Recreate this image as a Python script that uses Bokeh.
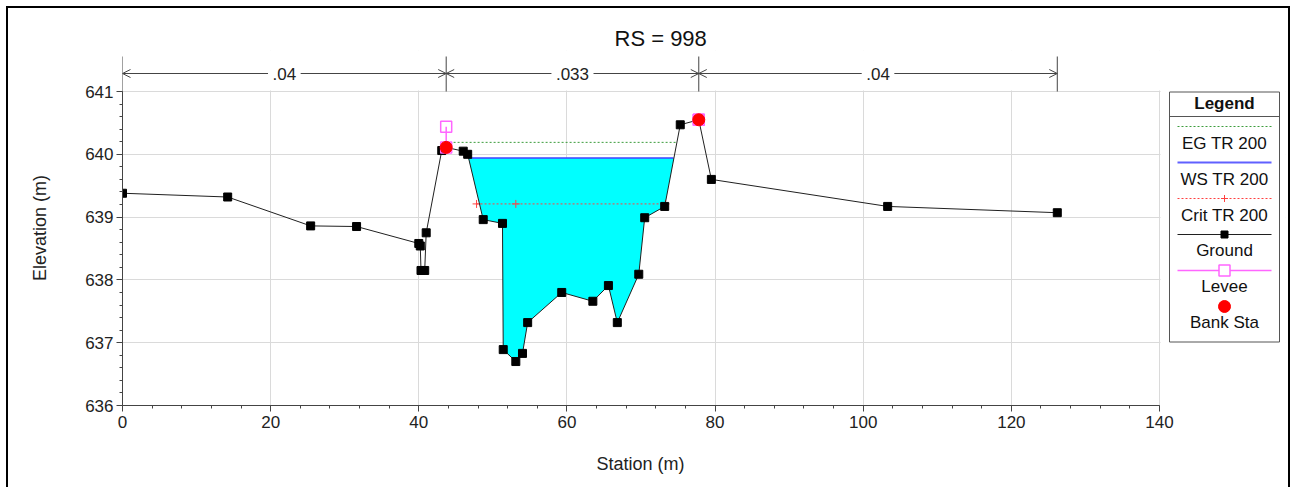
import numpy as np
from bokeh.plotting import figure
from bokeh.models import Range1d, SingleIntervalTicker, Arrow, OpenHead, Label, Title
from bokeh.core.properties import value
from bokeh.embed import file_html
from bokeh.resources import INLINE

# ---------------- data ----------------
TITLE = "RS = 998"
X_LABEL = "Station (m)"
Y_LABEL = "Elevation (m)"
GROUND_X = [0.0, 14.2, 25.4, 31.6, 40.0, 40.2, 40.3, 40.8, 41.0, 43.1, 43.7, 46.0, 46.6,
            48.7, 51.3, 51.4, 53.1, 54.0, 54.7, 59.3, 63.5, 65.6, 66.8, 69.7, 70.5, 73.2,
            75.3, 77.8, 79.5, 103.3, 126.2]
GROUND_Y = [639.38, 639.32, 638.86, 638.85, 638.58, 638.54, 638.15, 638.15, 638.75, 640.06,
            640.11, 640.05, 640.00, 638.96, 638.90, 636.89, 636.70, 636.83, 637.32, 637.80,
            637.66, 637.91, 637.32, 638.09, 638.99, 639.17, 640.47, 640.55, 639.60, 639.17,
            639.07]
BANK_X = [43.7, 77.8]
BANK_Y = [640.11, 640.55]
LEVEE_X = [43.7, 77.8]
LEVEE_Y = [640.44, 640.55]
EG_ELEV = 640.19
EG_X = [44.7, 74.9]
WS_ELEV = 639.94
WS_X = [46.7, 74.4]
CRIT_ELEV = 639.21
CRIT_X = [47.8, 73.3]
CRIT_MARK_X = [47.8, 53.1, 73.3]
N_BREAKS = [0.0, 43.7, 77.8, 126.2]
N_LABELS = [".04", ".033", ".04"]
LEGEND_NAMES = ["EG TR 200", "WS TR 200", "Crit TR 200", "Ground", "Levee", "Bank Sta"]

# ---------------- layout / style ----------------
FONT = "Liberation Sans"
FIG_W, FIG_H = 1280, 479
F_LEFT, F_RIGHT, F_TOP, F_BOTTOM = 114, 1277, 42, 397   # frame in figure pixels
X_AX = (0, 140)
Y_AX = (636, 641)
SX = 1037 / 140.0          # px per m (station)
SY = 314 / 5.0             # px per m (elevation)
X_END = X_AX[0] + (F_RIGHT - F_LEFT) / SX
Y_END = Y_AX[0] + (F_BOTTOM - F_TOP) / SY


def fx(px):
    return (px - F_LEFT) / SX


def fy(py):
    return Y_AX[0] + (F_BOTTOM - py) / SY


C_EG = "#3c9c3c"
C_WS = "#4040ff"
C_CRIT = "#ff4040"
C_GROUND = "#202020"
C_LEVEE = "#ff66ff"
C_BANK = "#ff0000"
C_WATER = "#00ffff"
C_AX = "#444444"

p = figure(width=FIG_W, height=FIG_H, x_range=Range1d(X_AX[0], X_END),
           y_range=Range1d(Y_AX[0], Y_END), output_backend="svg", toolbar_location=None,
           min_border_left=F_LEFT, min_border_right=FIG_W - F_RIGHT,
           min_border_top=F_TOP, min_border_bottom=FIG_H - F_BOTTOM,
           title=TITLE,
           styles={"outline": "2px solid black", "margin-left": "8px", "margin-top": "8px"})
p.outline_line_color = None
p.background_fill_color = "white"

p.title.text_font = FONT
p.title.text_font_size = "22px"
p.title.text_font_style = "normal"
p.title.text_color = "#111111"
p.title.align = "left"
p.title.offset = 492
p.title.standoff = 0

p.xaxis.ticker = SingleIntervalTicker(interval=20, num_minor_ticks=5)
p.yaxis.ticker = SingleIntervalTicker(interval=1, num_minor_ticks=5)
p.xaxis.bounds = X_AX
p.yaxis.bounds = Y_AX
p.yaxis.axis_label = Y_LABEL
for ax in (p.xaxis, p.yaxis):
    ax.axis_line_color = C_AX
    ax.major_tick_line_color = C_AX
    ax.minor_tick_line_color = C_AX
    ax.major_tick_out = 6
    ax.major_tick_in = 0
    ax.minor_tick_out = 3
    ax.minor_tick_in = 0
    ax.major_label_text_font = FONT
    ax.major_label_text_font_size = "17px"
    ax.major_label_text_color = "#222222"
    ax.axis_label_text_font = FONT
    ax.axis_label_text_font_size = "18px"
    ax.axis_label_text_font_style = "normal"
    ax.axis_label_text_color = "#222222"
p.yaxis.major_label_standoff = 3
p.xaxis.major_label_standoff = 4
p.yaxis.axis_label_standoff = 32
# blank spacer label on the x axis (the visible x title is a Title placed under it)
p.xaxis.axis_label = "\u00a0"
p.xaxis.axis_label_standoff = 0
p.xaxis.axis_label_text_font_size = "11px"
p.grid.grid_line_color = "#dadada"
p.grid.grid_line_width = 1

# x-axis title centred under the 0..140 axis (the frame also holds the legend)
xt = Title(text=X_LABEL, align="left", offset=474, vertical_align="top", standoff=16,
           text_font=FONT, text_font_size="18px", text_font_style="normal",
           text_color="#222222")
p.add_layout(xt, "below")

# cover grid lines outside the 0..140 / 636..641 box
p.quad(left=X_AX[0] - 1, right=X_END + 1, bottom=Y_AX[1] + 1.0 / SY, top=Y_END + 1,
       fill_color="white", line_color=None)
p.quad(left=X_AX[1] + 1.0 / SX, right=X_END + 1, bottom=Y_AX[0] - 1, top=Y_END + 1,
       fill_color="white", line_color=None)

# ---------------- n-value bar ----------------
N_Y = Y_AX[1] + 18 / SY
N_TOP = Y_AX[1] + 35 / SY
p.segment(x0=N_BREAKS, y0=[Y_AX[1]] * len(N_BREAKS), x1=N_BREAKS, y1=[N_TOP] * len(N_BREAKS),
          line_color=C_AX, line_width=1)
for i, lab in enumerate(N_LABELS):
    a, b = N_BREAKS[i], N_BREAKS[i + 1]
    c = (a + b) / 2.0
    half_gap = (4.5 + (0.278 + 0.556 * (len(lab) - 1)) * 17 / 2.0) / SX
    p.add_layout(Arrow(end=OpenHead(size=8, line_color=C_AX, line_width=1),
                       x_start=c - half_gap, y_start=N_Y, x_end=a, y_end=N_Y,
                       line_color=C_AX, line_width=1))
    p.add_layout(Arrow(end=OpenHead(size=8, line_color=C_AX, line_width=1),
                       x_start=c + half_gap, y_start=N_Y, x_end=b, y_end=N_Y,
                       line_color=C_AX, line_width=1))
    p.add_layout(Label(x=c, y=N_Y, text=lab, text_align="center", text_baseline="middle",
                       text_font=FONT, text_font_size="17px", text_color="#222222"))

# ---------------- water fill ----------------
gx = np.array(GROUND_X)
gy = np.array(GROUND_Y)
inner = [x for x in GROUND_X if WS_X[0] < x < WS_X[1]]
wx = [WS_X[0]] + inner + [WS_X[1]]
wy = np.minimum(np.interp(wx, gx, gy), WS_ELEV)
p.patch(x=wx + [WS_X[1], WS_X[0]], y=list(wy) + [WS_ELEV, WS_ELEV],
        fill_color=C_WATER, line_color=None)

# ---------------- lines ----------------
p.line(EG_X, [EG_ELEV, EG_ELEV], line_color=C_EG, line_dash="2 2", line_width=1)
p.line(WS_X, [WS_ELEV, WS_ELEV], line_color=C_WS, line_width=1.5)
p.line(CRIT_X, [CRIT_ELEV, CRIT_ELEV], line_color=C_CRIT, line_dash="2 2", line_width=1)
p.scatter(CRIT_MARK_X, [CRIT_ELEV] * len(CRIT_MARK_X), marker="cross", size=8,
          line_color=C_CRIT, line_width=1)
p.line(GROUND_X, GROUND_Y, line_color=C_GROUND, line_width=1)
p.scatter(GROUND_X, GROUND_Y, marker="square", size=8, fill_color="black", line_color="black")
# levee: top marker with a line down to ground at the levee station
lev_ground = list(np.interp(LEVEE_X, gx, gy))
p.segment(x0=LEVEE_X, y0=LEVEE_Y, x1=LEVEE_X, y1=lev_ground, line_color=C_LEVEE, line_width=1.5)
p.scatter(LEVEE_X + LEVEE_X, LEVEE_Y + lev_ground, marker="square", size=11,
          fill_color=None, line_color=C_LEVEE, line_width=1.5)
p.scatter(BANK_X, BANK_Y, marker="circle", size=12, fill_color=C_BANK, line_color=C_BANK)

# ---------------- legend (drawn by hand: sample above label) ----------------
LB_L, LB_R, LB_T, LB_B = 1161, 1271, 83.5, 333.5
p.quad(left=fx(LB_L), right=fx(LB_R), top=fy(LB_T), bottom=fy(LB_B),
       fill_color="white", line_color="#555555", line_width=1)
p.segment(x0=[fx(LB_L)], y0=[fy(108)], x1=[fx(LB_R)], y1=[fy(108)],
          line_color="#555555", line_width=1)
cx = (LB_L + LB_R) / 2.0
p.text(x=[fx(cx)], y=[fy(95)], text=["Legend"], text_align="center", text_baseline="middle",
       text_font=value(FONT), text_font_size="17px", text_font_style="bold", text_color="#111111")
SL, SR = fx(1169), fx(1263)
sy = [118 + 36 * i for i in range(6)]
ly = [135 + 35.8 * i for i in range(6)]
p.line([SL, SR], [fy(sy[0])] * 2, line_color=C_EG, line_dash="2 2", line_width=1)
p.line([SL, SR], [fy(sy[1])] * 2, line_color="#6060ff", line_width=2)
p.line([SL, SR], [fy(sy[2])] * 2, line_color=C_CRIT, line_dash="2 2", line_width=1)
p.scatter([fx(cx)], [fy(sy[2])], marker="cross", size=7, line_color=C_CRIT)
p.line([SL, SR], [fy(sy[3])] * 2, line_color=C_GROUND, line_width=1)
p.scatter([fx(cx)], [fy(sy[3])], marker="square", size=7, fill_color="black", line_color="black")
p.line([SL, SR], [fy(sy[4])] * 2, line_color=C_LEVEE, line_width=1.5)
p.scatter([fx(cx)], [fy(sy[4])], marker="square", size=11, fill_color="white",
          line_color=C_LEVEE, line_width=1.5)
p.scatter([fx(cx)], [fy(sy[5])], marker="circle", size=12, fill_color=C_BANK, line_color=C_BANK)
p.text(x=[fx(cx)] * 6, y=[fy(v) for v in ly], text=LEGEND_NAMES, text_align="center",
       text_baseline="middle", text_font=value(FONT), text_font_size="17px",
       text_color="#111111")

open("out.html", "w").write(file_html(p, INLINE))
